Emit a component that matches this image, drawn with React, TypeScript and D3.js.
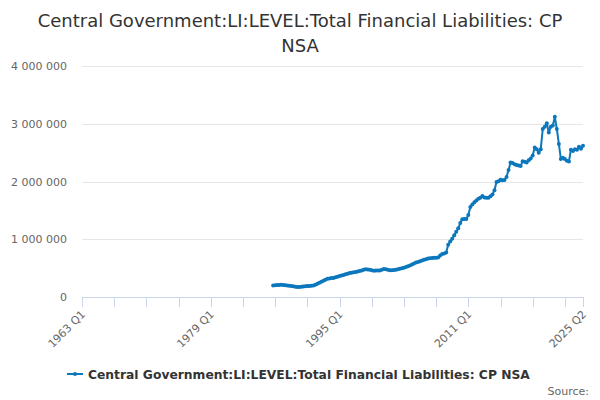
import React, { useEffect, useRef } from 'react';
import * as d3 from 'd3';

// quarters on the category axis
const firstYear = 1963;
const quarterCount = 250; // 1963 Q1 .. 2025 Q2

const tickLabels = ['1963 Q1', '1979 Q1', '1995 Q1', '2011 Q1', '2025 Q2'];
const yTicks = [0, 1000000, 2000000, 3000000, 4000000];

// series starts at 1986 Q4, £ million
const seriesStart = '1986 Q4';
const liabilities = [
    200000, 203000, 206000, 208000, 210000, 206000, 203000, 199000, 196000, 190000,
    184000, 178000, 172000, 174000, 178000, 181000, 185000, 189000, 192000, 196000,
    200000, 212000, 228000, 245000, 262000, 280000, 298000, 316000, 322000, 327000,
    330000, 341000, 352000, 362000, 372000, 382000, 393000, 404000, 414000, 421000,
    428000, 434000, 440000, 450000, 460000, 470000, 480000, 478000, 470000, 462000,
    456000, 457000, 459000, 461000, 472000, 485000, 482000, 472000, 462000, 462000,
    468000, 474000, 480000, 490000, 500000, 508000, 520000, 532000, 546000, 562000,
    580000, 596000, 605000, 620000, 634000, 646000, 655000, 665000, 670000, 675000,
    680000, 678000, 684000, 720000, 745000, 755000, 770000, 905000, 960000, 1010000,
    1070000, 1130000, 1190000, 1280000, 1345000, 1350000, 1350000, 1420000, 1560000, 1600000,
    1640000, 1670000, 1700000, 1720000, 1750000, 1725000, 1720000, 1720000, 1745000, 1775000,
    1850000, 1990000, 2005000, 2030000, 2020000, 2025000, 2080000, 2200000, 2330000, 2320000,
    2300000, 2285000, 2275000, 2270000, 2350000, 2340000, 2330000, 2370000, 2400000, 2450000,
    2590000, 2560000, 2500000, 2560000, 2910000, 2950000, 3010000, 2850000, 2950000, 2970000,
    3120000, 2910000, 2650000, 2390000, 2410000, 2390000, 2360000, 2345000, 2550000, 2530000,
    2560000, 2550000, 2600000, 2565000, 2620000,
];

const seriesName = 'Central Government:LI:LEVEL:Total Financial Liabilities: CP NSA';
const titleLines = ['Central Government:LI:LEVEL:Total Financial Liabilities: CP', 'NSA'];

const App: React.FC = () => {
    const chartRef = useRef<SVGSVGElement | null>(null);

    useEffect(() => {
        if (!chartRef.current) return;

        const width = 600;
        const height = 400;
        const plot = { left: 82, right: 583, top: 66, bottom: 297 };
        const color = '#0b77bd';
        const font = '"DejaVu Sans", sans-serif';

        const quarters = d3.range(quarterCount).map(i => `${firstYear + Math.floor(i / 4)} Q${(i % 4) + 1}`);
        const startIdx = quarters.indexOf(seriesStart);
        const points = liabilities.map((v, k) => ({ i: startIdx + k, v }));

        d3.select(chartRef.current).selectAll('*').remove();

        const svg = d3.select(chartRef.current)
            .attr('width', width)
            .attr('height', height)
            .style('font-family', font);

        svg.append('rect').attr('width', width).attr('height', height).attr('fill', '#fff');

        const x = d3.scaleLinear().domain([0, quarterCount - 1]).range([plot.left, plot.right]);
        const y = d3.scaleLinear().domain([0, 4000000]).range([plot.bottom, plot.top]);
        const fmt = d3.formatLocale({ decimal: '.', thousands: '\u00a0', grouping: [3], currency: ['', ''] }).format(',');

        // title
        svg.append('g')
            .selectAll('text')
            .data(titleLines)
            .enter()
            .append('text')
            .attr('x', width / 2)
            .attr('y', (_, k) => 27 + k * 25)
            .attr('text-anchor', 'middle')
            .style('font-size', '18px')
            .style('fill', '#333')
            .text(d => d);

        // gridlines + y labels
        svg.append('g')
            .selectAll('line')
            .data(yTicks.slice(1))
            .enter()
            .append('line')
            .attr('x1', plot.left)
            .attr('x2', plot.right)
            .attr('y1', d => Math.round(y(d)) + 0.5)
            .attr('y2', d => Math.round(y(d)) + 0.5)
            .attr('stroke', '#e6e6e6');

        svg.append('g')
            .selectAll('text')
            .data(yTicks)
            .enter()
            .append('text')
            .attr('x', 67)
            .attr('y', d => y(d) + 4)
            .attr('text-anchor', 'end')
            .style('font-size', '11px')
            .style('fill', '#666')
            .text(d => fmt(d));

        // x axis
        const tickIdx = d3.range(0, quarterCount, 16).concat([quarterCount - 1]);
        const axis = svg.append('g');
        axis.append('line')
            .attr('x1', plot.left)
            .attr('x2', plot.right)
            .attr('y1', plot.bottom + 0.5)
            .attr('y2', plot.bottom + 0.5)
            .attr('stroke', '#ccd6eb');
        axis.selectAll('line.tick')
            .data(tickIdx)
            .enter()
            .append('line')
            .attr('class', 'tick')
            .attr('x1', d => Math.round(x(d)) + 0.5)
            .attr('x2', d => Math.round(x(d)) + 0.5)
            .attr('y1', plot.bottom)
            .attr('y2', plot.bottom + 10)
            .attr('stroke', '#ccd6eb');
        axis.selectAll('text')
            .data(tickLabels)
            .enter()
            .append('text')
            .attr('transform', d => `translate(${x(quarters.indexOf(d)) + 4}, ${plot.bottom + 18}) rotate(-45)`)
            .attr('text-anchor', 'end')
            .style('font-size', '11px')
            .style('fill', '#666')
            .text(d => d);

        // series
        const line = d3.line<{ i: number; v: number }>()
            .x(d => x(d.i))
            .y(d => y(d.v));

        svg.append('path')
            .datum(points)
            .attr('d', line)
            .attr('fill', 'none')
            .attr('stroke', color)
            .attr('stroke-width', 2)
            .attr('stroke-linejoin', 'round');

        svg.append('g')
            .selectAll('circle')
            .data(points)
            .enter()
            .append('circle')
            .attr('cx', d => x(d.i))
            .attr('cy', d => y(d.v))
            .attr('r', 2)
            .attr('fill', color);

        // legend
        const legend = svg.append('g');
        legend.append('line')
            .attr('x1', 67).attr('x2', 83)
            .attr('y1', 374).attr('y2', 374)
            .attr('stroke', color)
            .attr('stroke-width', 2);
        legend.append('circle').attr('cx', 75).attr('cy', 374).attr('r', 2).attr('fill', color);
        legend.append('text')
            .attr('x', 88)
            .attr('y', 378.5)
            .style('font-size', '12.3px')
            .style('font-weight', 'bold')
            .style('fill', '#333')
            .text(seriesName);

        svg.append('text')
            .attr('x', 589)
            .attr('y', 395)
            .attr('text-anchor', 'end')
            .style('font-size', '11px')
            .style('fill', '#666')
            .text('Source:');
    }, []);

    return <svg ref={chartRef} style={{ position: 'absolute', left: 0, top: 0 }} />;
};

export default App;
